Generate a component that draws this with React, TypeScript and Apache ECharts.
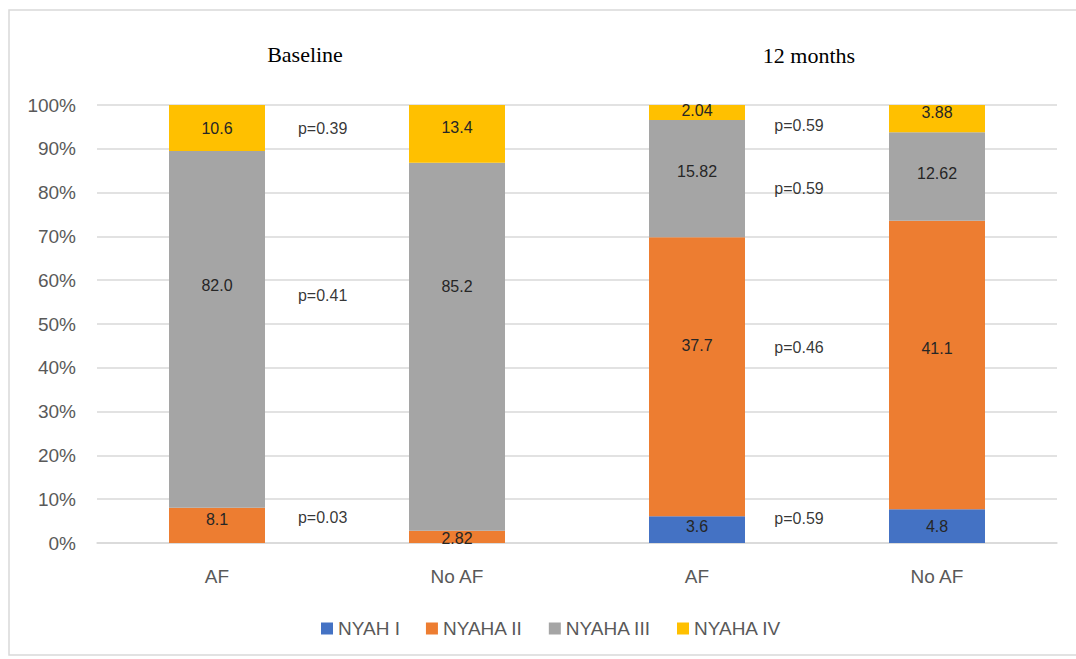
import React, { useEffect, useRef } from "react";
import * as echarts from "echarts";

const categories = ["AF", "No AF", "AF", "No AF"];
const seriesNames = ["NYAH I", "NYAHA II", "NYAHA III", "NYAHA IV"];
const nyha1 = [null, null, 3.6, 4.8];
const nyha2 = [8.1, 2.82, 37.7, 41.1];
const nyha3 = [82.0, 85.2, 15.82, 12.62];
const nyha4 = [10.6, 13.4, 2.04, 3.88];
const colors = ["#4472C4", "#ED7D31", "#A5A5A5", "#FFC000"];
const yTicks = [0, 10, 20, 30, 40, 50, 60, 70, 80, 90, 100];

// p-value annotations anchored in data space: [x on 0..4 category span, y in %]
const pLabels = ["p=0.39", "p=0.41", "p=0.03", "p=0.59", "p=0.59", "p=0.46", "p=0.59"];
const pX = [0.94, 0.94, 0.94, 2.925, 2.925, 2.925, 2.925];
const pY = [94.7, 56.6, 5.9, 95.4, 81.0, 44.7, 5.5];

const groupTitles = ["Baseline", "12 months"];

// vertical nudges (px) of the value labels, as placed in the original
const labelShift = [
  [0, 0, -3, 0],
  [-6, 2, -31, -17],
  [-44, -60, -7, -3],
  [0, -6, -2, -6],
];

const fmt = (v: number) => (Number.isInteger(v) ? v.toFixed(1) : String(v));

export default function App() {
  const ref = useRef<HTMLDivElement>(null);
  useEffect(() => {
    if (!ref.current) return;
    const chart = echarts.init(ref.current, null, { renderer: "svg" });
    const raw = [nyha1, nyha2, nyha3, nyha4];
    const totals = categories.map((_, i) =>
      raw.reduce((s, arr) => s + ((arr[i] as number) || 0), 0)
    );
    const barSeries = raw.map((arr, k) => ({
      name: seriesNames[k],
      type: "bar",
      stack: "total",
      barWidth: "40%",
      itemStyle: { color: colors[k] },
      label: {
        show: true,
        position: "inside",
        color: "#262626",
        fontFamily: "Liberation Sans",
        fontSize: 16,
        formatter: (p: any) => (p.data && p.data.raw != null ? fmt(p.data.raw) : ""),
      },
      data: arr.map((v, i) =>
        v == null
          ? { value: null, raw: null }
          : {
              value: ((v as number) / totals[i]) * 100,
              raw: v,
              label: { offset: [0, labelShift[k][i]] },
            }
      ),
    }));
    const option: any = {
      animation: false,
      textStyle: { fontFamily: "Liberation Sans" },
      grid: { left: 97, right: 19, top: 105, bottom: 116 },
      legend: {
        data: seriesNames,
        left: 316,
        top: 614,
        itemWidth: 12,
        itemHeight: 12,
        itemGap: 26,
        icon: "rect",
        textStyle: { color: "#595959", fontSize: 19, fontFamily: "Liberation Sans" },
      },
      xAxis: [
        {
          type: "category",
          data: categories,
          axisLine: { show: true, lineStyle: { color: "#d9d9d9", width: 1.5 } },
          axisTick: { show: false },
          axisLabel: { color: "#595959", fontSize: 19, margin: 24, fontFamily: "Liberation Sans" },
        },
        { type: "value", min: 0, max: 4, show: false },
      ],
      yAxis: {
        type: "value",
        min: 0,
        max: 100,
        interval: 10,
        axisLine: { show: false },
        axisTick: { show: false },
        splitLine: { lineStyle: { color: "#d9d9d9", width: 1.5 } },
        axisLabel: {
          color: "#595959",
          fontSize: 19,
          margin: 21,
          fontFamily: "Liberation Sans",
          formatter: (v: number) => (yTicks.includes(v) ? v + "%" : ""),
        },
      },
      series: [
        ...barSeries,
        {
          name: "pvalues",
          type: "scatter",
          xAxisIndex: 1,
          symbol: "circle",
          symbolSize: 1,
          itemStyle: { color: "rgba(0,0,0,0)" },
          silent: true,
          label: {
            show: true,
            position: "inside",
            color: "#000",
            fontSize: 16,
            fontFamily: "Liberation Sans",
            formatter: (p: any) => pLabels[p.dataIndex],
          },
          data: pX.map((x, i) => [x, pY[i]]),
        },
      ],
      graphic: [
        {
          type: "rect",
          shape: { x: 9, y: 10, width: 1090, height: 645 },
          style: { fill: "none", stroke: "#d9d9d9", lineWidth: 1.5 },
          silent: true,
        },
        {
          type: "text",
          x: 305,
          y: 54,
          style: {
            text: groupTitles[0],
            font: "22px 'Liberation Serif'",
            fill: "#000",
            textAlign: "center",
            textVerticalAlign: "middle",
          },
        },
        {
          type: "text",
          x: 809,
          y: 55,
          style: {
            text: groupTitles[1],
            font: "22px 'Liberation Serif'",
            fill: "#000",
            textAlign: "center",
            textVerticalAlign: "middle",
          },
        },
      ],
    };
    chart.setOption(option);
    return () => chart.dispose();
  }, []);
  return (
    <div
      ref={ref}
      style={{ position: "absolute", left: 0, top: 0, width: 1076, height: 659, background: "#fff" }}
    />
  );
}
